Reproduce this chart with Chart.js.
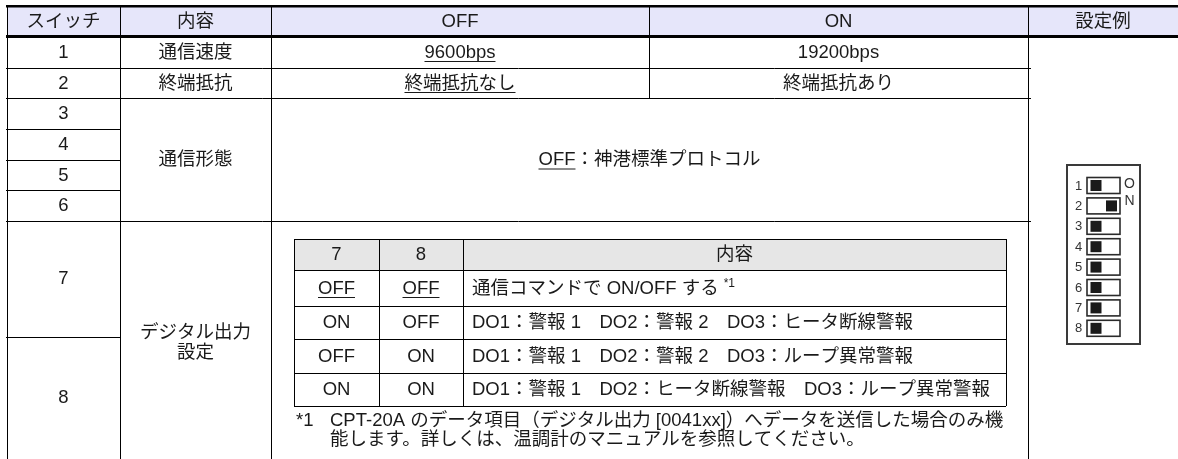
<!DOCTYPE html>
<html lang="ja">
<head>
    <meta charset="UTF-8">
    <title>スイッチ設定</title>
<style>
html,body{margin:0;padding:0;background:#fff;overflow:hidden;}
</style>
</head>
<body>
    <canvas id="swTable" width="1178" height="459"></canvas>
</body>
<script src="https://cdn.jsdelivr.net/npm/chart.js"></script>
<script>
// table content
var headers=["スイッチ","内容","OFF","ON","設定例"];
var switchNos=["1","2","3","4","5","6","7","8"];
var items=["通信速度","終端抵抗","通信形態",["デジタル出力","設定"]];
var offValues=["9600bps","終端抵抗なし"];
var onValues=["19200bps","終端抵抗あり"];
var formDefault="OFF";
var formText="：神港標準プロトコル";
var subHeaders=["7","8","内容"];
var sw7=["OFF","ON","OFF","ON"];
var sw8=["OFF","OFF","ON","ON"];
var outputs=["通信コマンドで ON/OFF する","DO1：警報 1　DO2：警報 2　DO3：ヒータ断線警報","DO1：警報 1　DO2：警報 2　DO3：ループ異常警報","DO1：警報 1　DO2：ヒータ断線警報　DO3：ループ異常警報"];
var noteMark="*1";
var noteLines=["CPT-20A のデータ項目（デジタル出力 [0041xx]）へデータを送信した場合のみ機","能します。詳しくは、温調計のマニュアルを参照してください。"];
var dipState=[0,1,0,0,0,0,0,0]; // 1 = ON side

// grid (in canvas units)
var colX=[7,120,271,649,1028,1180];
var rowY=[6,36,68,98,129,160,190,221,337,470];
var subColX=[294,379,463,1006];
var subRowY=[239,270,306,339,373,406];

var FONT='"Liberation Sans","Noto Sans CJK JP",Arial,sans-serif';
var FS=18.5;

var tablePlugin={
  id:'table',
  afterDraw:function(chart){
    var c=chart.ctx, sx=chart.scales.x, sy=chart.scales.y;
    var X=function(v){return sx.getPixelForValue(v);};
    var Y=function(v){return sy.getPixelForValue(v);};
    c.save();

    function hline(x1,x2,y,w){c.lineWidth=w||1;c.strokeStyle='#000';c.beginPath();c.moveTo(X(x1),Y(y));c.lineTo(X(x2),Y(y));c.stroke();}
    function vline(x,y1,y2,w){c.lineWidth=w||1;c.strokeStyle='#000';c.beginPath();c.moveTo(X(x),Y(y1));c.lineTo(X(x),Y(y2));c.stroke();}
    function text(s,x,y,align,size,ul){
      c.font=(size||FS)+'px '+FONT;c.fillStyle='#1a1a1a';c.textAlign=align||'center';c.textBaseline='middle';
      c.fillText(s,X(x),Y(y));
      var w=c.measureText(s).width;
      if(ul){
        var x1=align==='left'?X(x):X(x)-w/2;
        c.lineWidth=1;c.strokeStyle='#1a1a1a';c.beginPath();c.moveTo(x1,Y(y)+9);c.lineTo(x1+w,Y(y)+9);c.stroke();
      }
      return w;
    }
    function mid(a,b){return (a+b)/2;}

    // header background
    c.fillStyle='#e6e6fa';
    c.fillRect(X(colX[0]),Y(rowY[0]),X(colX[5])-X(colX[0]),Y(rowY[1])-Y(rowY[0]));
    // sub table header background
    c.fillStyle='#e6e6e6';
    c.fillRect(X(subColX[0]),Y(subRowY[0]),X(subColX[3])-X(subColX[0]),Y(subRowY[1])-Y(subRowY[0]));

    // outer lines
    hline(colX[0]-1,colX[5],rowY[0]+0.3,2.6);
    hline(colX[0]-1,colX[5],rowY[1]+0.5,3);
    vline(colX[0]+0.5,rowY[0],rowY[9]);
    vline(colX[1]+0.5,rowY[0],rowY[9]);
    vline(colX[2]+0.5,rowY[0],rowY[9]);
    vline(colX[3]+0.5,rowY[0],rowY[3]);
    vline(colX[4]+0.5,rowY[0],rowY[9]);
    // row lines
    for(var r=2;r<=8;r++){
      var full=(r===2||r===3||r===7);
      hline(colX[0]-1,full?colX[4]+3:colX[1],rowY[r]+0.5);
    }

    // header texts
    for(var i=0;i<headers.length;i++) text(headers[i],mid(colX[i],colX[i+1]===1180?1178:colX[i+1]),mid(rowY[0],rowY[1])+0.5);
    // switch numbers
    for(var k=0;k<6;k++) text(switchNos[k],mid(colX[0],colX[1]),mid(rowY[k+1],rowY[k+2])+0.5);
    text(switchNos[6],mid(colX[0],colX[1]),mid(rowY[7],rowY[8]));
    text(switchNos[7],mid(colX[0],colX[1]),398);
    // items
    text(items[0],mid(colX[1],colX[2]),mid(rowY[1],rowY[2])+0.5);
    text(items[1],mid(colX[1],colX[2]),mid(rowY[2],rowY[3])+0.5);
    text(items[2],mid(colX[1],colX[2]),mid(rowY[3],rowY[7])+0.5);
    text(items[3][0],mid(colX[1],colX[2]),333);
    text(items[3][1],mid(colX[1],colX[2]),353);
    // OFF / ON values (OFF is default -> underlined)
    for(var v=0;v<2;v++){
      text(offValues[v],mid(colX[2],colX[3]),mid(rowY[v+1],rowY[v+2])+0.5,'center',FS,true);
      text(onValues[v],mid(colX[3],colX[4]),mid(rowY[v+1],rowY[v+2])+0.5);
    }
    // merged rows 3-6
    c.font=FS+'px '+FONT;
    var wA=c.measureText(formDefault).width, wB=c.measureText(formText).width;
    var startX=sx.getValueForPixel(X(mid(colX[2],colX[4]))-(wA+wB)/2);
    var fy=mid(rowY[3],rowY[7])+0.5;
    text(formDefault,startX,fy,'left',FS,true);
    text(formText,sx.getValueForPixel(X(startX)+wA),fy,'left');

    // sub table
    for(var q=0;q<subRowY.length;q++) hline(subColX[0],subColX[3],subRowY[q]+0.5);
    for(var p=0;p<subColX.length;p++) vline(subColX[p]+0.5,subRowY[0],subRowY[5]);
    for(var h=0;h<3;h++) text(subHeaders[h],mid(subColX[h],subColX[h+1]),mid(subRowY[0],subRowY[1])+0.5);
    for(var s=0;s<sw7.length;s++){
      var ry=mid(subRowY[s+1],subRowY[s+2])+0.5;
      var isDef=(s===0);
      text(sw7[s],mid(subColX[0],subColX[1]),ry,'center',FS,isDef);
      text(sw8[s],mid(subColX[1],subColX[2]),ry,'center',FS,isDef);
      var tw=text(outputs[s],subColX[2]+9,ry,'left');
      if(s===0) text(noteMark,sx.getValueForPixel(X(subColX[2]+9)+tw+5),ry-5,'left',12);
    }
    // footnote
    text(noteMark,296,421,'left');
    text(noteLines[0],330,421,'left');
    text(noteLines[1],330,440,'left');

    // DIP switch picture
    var bx1=1067,bx2=1140,by1=165,by2=344;
    c.lineWidth=2;c.strokeStyle='#3a3a3a';
    c.strokeRect(X(bx1),Y(by1),X(bx2)-X(bx1),Y(by2)-Y(by1));
    for(var d=0;d<dipState.length;d++){
      var ty=177.5+d*20.4;
      c.lineWidth=1.6;c.strokeStyle='#2a2a2a';
      c.strokeRect(X(1087),Y(ty),X(1120)-X(1087),Y(ty+16)-Y(ty));
      c.fillStyle='#1a1a1a';
      var kx=dipState[d]?1106:1090.5;
      c.fillRect(X(kx),Y(ty+2.5),11,11);
      c.font='13px '+FONT;c.fillStyle='#333';c.textAlign='center';c.textBaseline='middle';
      c.fillText(String(d+1),X(1078.5),Y(ty+8.5));
    }
    c.font='14px '+FONT;c.fillStyle='#333';c.textAlign='center';
    c.fillText('O',X(1129.5),Y(184));
    c.fillText('N',X(1129.5),Y(201));

    c.restore();
  }
};

var tbl=new Chart(document.getElementById('swTable').getContext('2d'),{
  type:'scatter',
  data:{datasets:[{data:[]}]},
  options:{
    responsive:false,animation:false,events:[],
    layout:{padding:0},
    plugins:{legend:{display:false},tooltip:{enabled:false}},
    scales:{
      x:{type:'linear',min:0,max:1178,display:false},
      y:{type:'linear',min:0,max:459,reverse:true,display:false}
    }
  },
  plugins:[tablePlugin]
});
</script>
</html>
